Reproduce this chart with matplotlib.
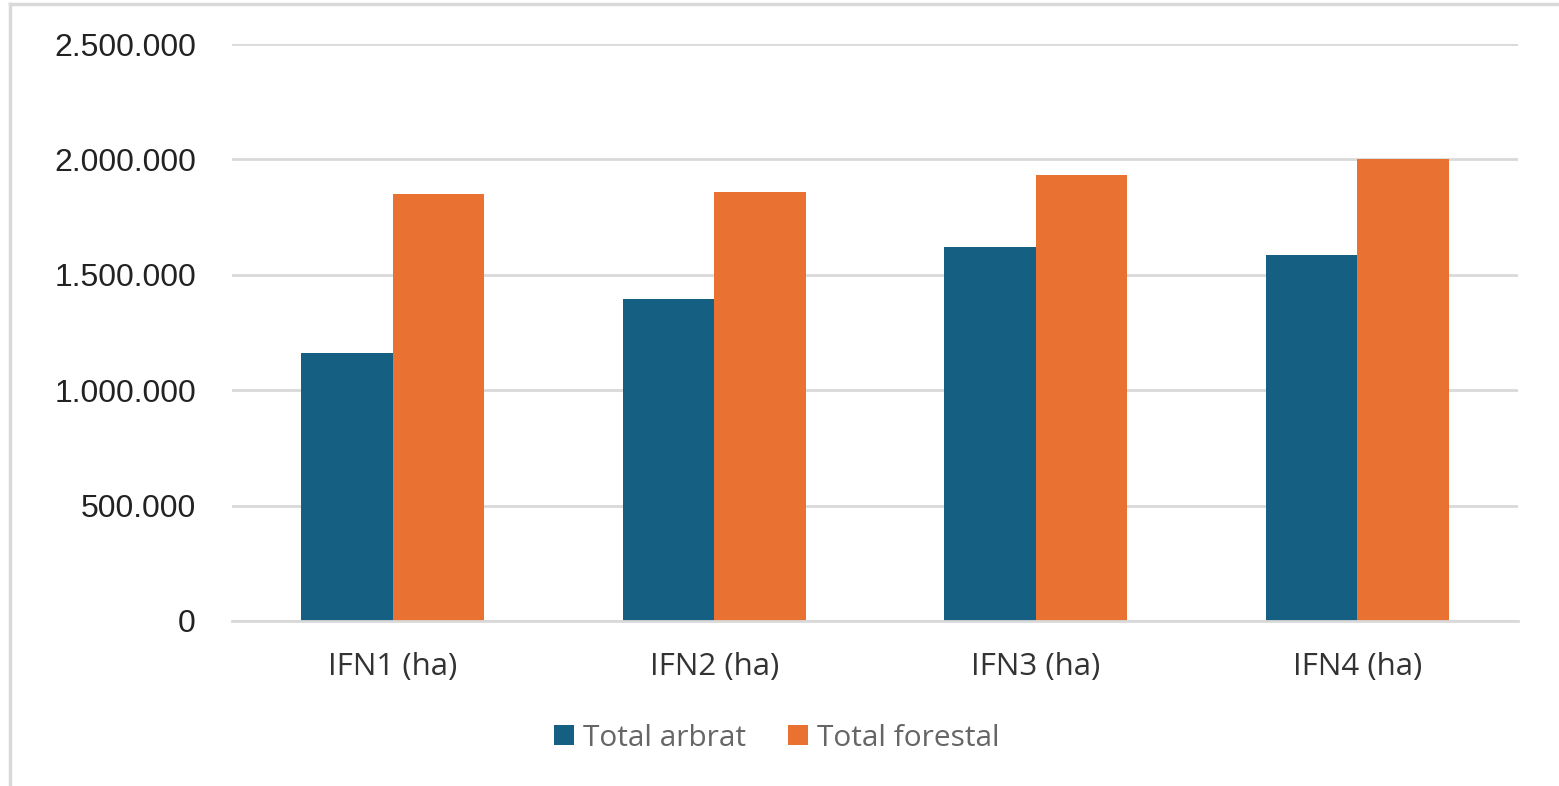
import matplotlib.pyplot as plt
from matplotlib.patches import Patch
from matplotlib.lines import Line2D
from matplotlib.ticker import FuncFormatter
import numpy as np

# Values (hectares)
categories = ["IFN1 (ha)", "IFN2 (ha)", "IFN3 (ha)", "IFN4 (ha)"]
total_arbrat = [1160000, 1394000, 1622000, 1584000]
total_forestal = [1851000, 1858000, 1933000, 2001000]
series_names = ["Total arbrat", "Total forestal"]
y_ticks = [0, 500000, 1000000, 1500000, 2000000, 2500000]

blue = "#156082"
orange = "#E97132"
grid_color = "#d9d9d9"

fig = plt.figure(figsize=(15.59, 7.86), dpi=100)
ax = fig.add_axes([232 / 1559, 165 / 786, (1518 - 232) / 1559, (621 - 44) / 786])

x = np.arange(len(categories))
w = 0.285
ax.bar(x - w / 2, total_arbrat, width=w, color=blue, zorder=3)
ax.bar(x + w / 2, total_forestal, width=w, color=orange, zorder=3)

ax.set_xlim(-0.5, len(categories) - 0.5)
ax.set_ylim(0, 2500000)
ax.set_yticks(y_ticks)
ax.yaxis.set_major_formatter(FuncFormatter(lambda v, p: f"{int(v):,}".replace(",", ".")))
ax.set_xticks(x)
ax.set_xticklabels(categories)

ax.grid(axis="y", color=grid_color, linewidth=2, zorder=0)
for s in ["top", "right", "left"]:
    ax.spines[s].set_visible(False)
ax.spines["bottom"].set_color(grid_color)
ax.spines["bottom"].set_linewidth(2)
ax.spines["bottom"].set_zorder(4)

ax.tick_params(axis="both", length=0)
ax.tick_params(axis="y", pad=26)
ax.tick_params(axis="x", pad=22)
for lbl in ax.get_yticklabels():
    lbl.set_fontfamily("Liberation Sans")
    lbl.set_fontsize(23)
    lbl.set_color("#222222")
for lbl in ax.get_xticklabels():
    lbl.set_fontfamily("Open Sans")
    lbl.set_fontsize(22.5)
    lbl.set_color("#333333")

handles = [Patch(facecolor=blue), Patch(facecolor=orange)]
leg = fig.legend(handles, series_names, loc="center", bbox_to_anchor=(777 / 1559, 1 - 738 / 786),
                 ncol=2, frameon=False, handlelength=0.68, handleheight=0.68,
                 handletextpad=0.3, columnspacing=1.4,
                 prop={"family": "Open Sans", "size": 21.5})
for t in leg.get_texts():
    t.set_color("#666666")

# light chart-area border (left and top edges visible)
fig.add_artist(Line2D([10 / 1559, 10 / 1559], [0, 1 - 4 / 786], transform=fig.transFigure,
                      color=grid_color, linewidth=2.5))
fig.add_artist(Line2D([10 / 1559, 1], [1 - 4 / 786, 1 - 4 / 786], transform=fig.transFigure,
                      color=grid_color, linewidth=2.5))

fig.savefig("out.png", dpi=100)
